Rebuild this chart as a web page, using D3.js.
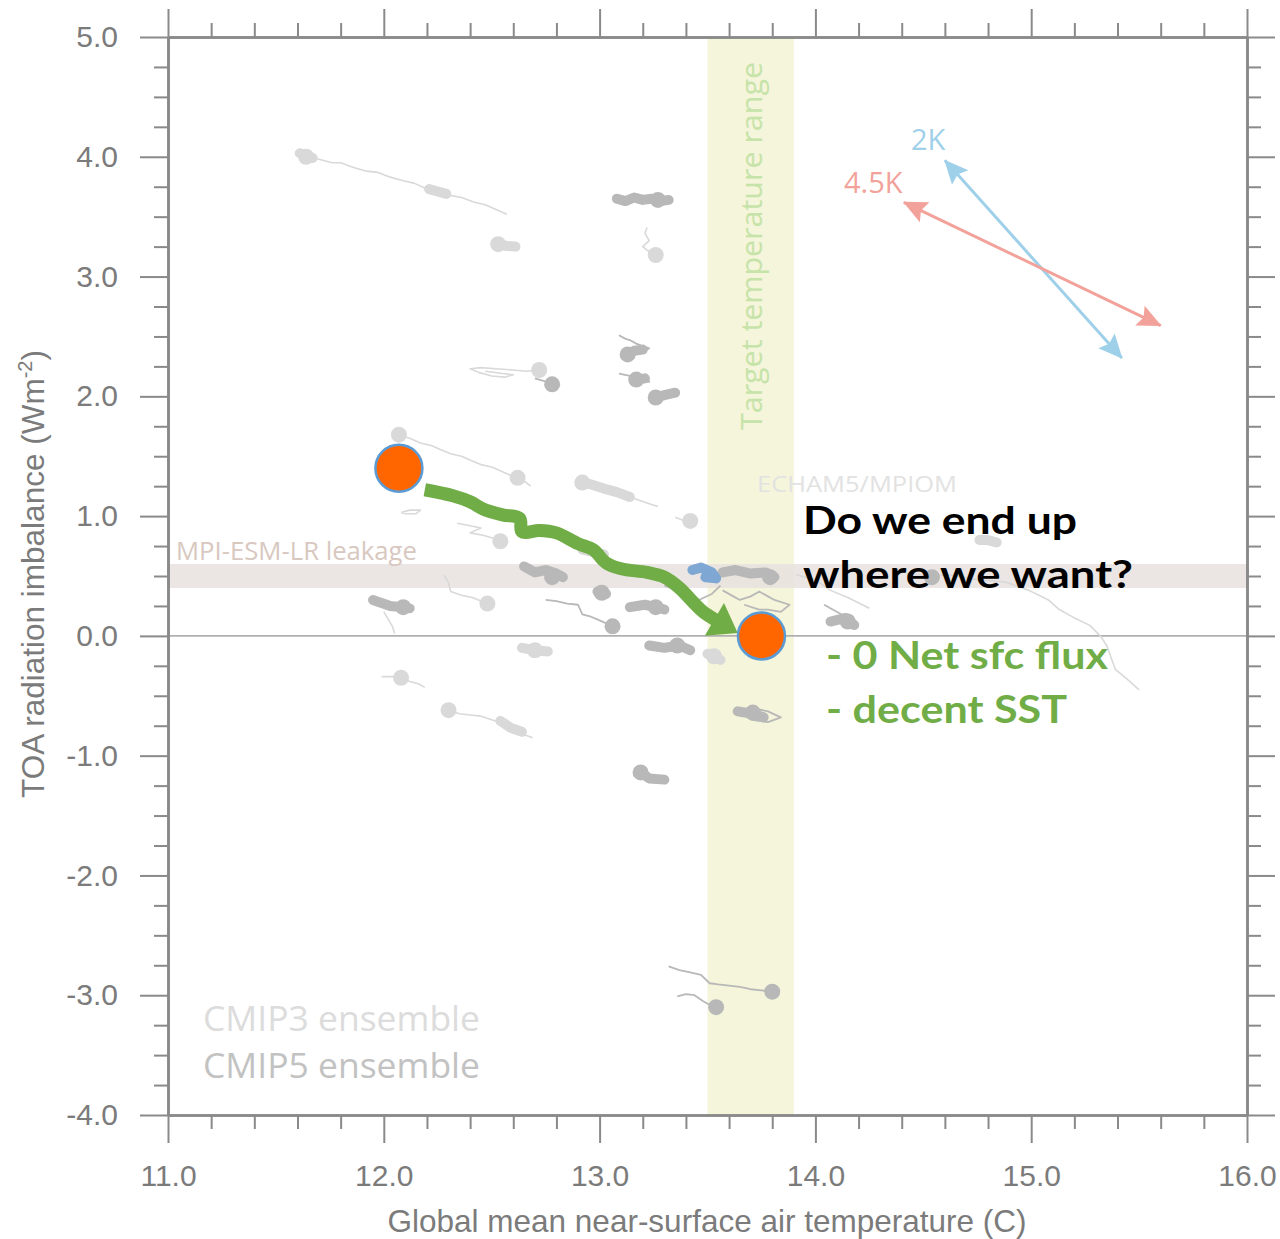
<!DOCTYPE html>
<html>
<head>
<meta charset="utf-8">
<script src="https://cdn.jsdelivr.net/npm/d3@7"></script>
<style>
  body { margin: 0; background: #fff; }
  text { font-family: "Liberation Sans", Arial, sans-serif; }
</style>
</head>
<body>
<svg id="chart" width="1280" height="1239"></svg>
<script>
// ---- axes ----
const xDomain = [11, 16];
const yDomain = [-4, 5];
const xMajor = [11, 12, 13, 14, 15, 16];
const yMajor = [5, 4, 3, 2, 1, 0, -1, -2, -3, -4];

// ---- reference ranges ----
const targetTempRange = [13.5, 13.9];     // degC
const leakageRange = [0.4, 0.6];          // W m-2

// ---- CMIP3 ensemble (temperature degC, TOA imbalance W m-2) ----
const cmip3Starts = [
  [11.64, 4.00], [12.53, 3.27], [12.72, 2.22], [13.26, 3.18], [12.07, 1.68],
  [12.62, 1.32], [12.92, 1.28], [12.54, 0.79], [13.42, 0.96], [12.48, 0.27],
  [12.08, -0.35], [12.30, -0.62], [13.53, -0.17], [12.70, -0.12]
];
const cmip3Tracks = [
  [[11.60, 4.04], [11.64, 4.00], [11.70, 3.98], [11.76, 3.95], [11.80, 3.95], [11.86, 3.91], [11.92, 3.88], [11.97, 3.87], [12.03, 3.83], [12.09, 3.80], [12.14, 3.78], [12.19, 3.74], [12.25, 3.71], [12.30, 3.68], [12.36, 3.66], [12.42, 3.62], [12.47, 3.60], [12.52, 3.56], [12.57, 3.52]],
  [[12.72, 2.22], [12.66, 2.21], [12.60, 2.22], [12.52, 2.23], [12.45, 2.24], [12.40, 2.23], [12.44, 2.20], [12.50, 2.17], [12.56, 2.16], [12.60, 2.18], [12.55, 2.19], [12.47, 2.21]],
  [[13.26, 3.18], [13.22, 3.22], [13.20, 3.25], [13.23, 3.30], [13.21, 3.36], [13.22, 3.41]],
  [[12.07, 1.68], [12.12, 1.65], [12.17, 1.61], [12.22, 1.59], [12.27, 1.55], [12.31, 1.52], [12.36, 1.50], [12.41, 1.46], [12.45, 1.43], [12.50, 1.41], [12.55, 1.37], [12.60, 1.33]],
  [[12.62, 1.32], [12.66, 1.28], [12.68, 1.25]],
  [[12.92, 1.28], [12.97, 1.26], [13.02, 1.23], [13.07, 1.20], [13.12, 1.17], [13.17, 1.14], [13.22, 1.11], [13.27, 1.08]],
  [[12.08, 1.03], [12.12, 1.05], [12.17, 1.05], [12.15, 1.02], [12.10, 1.02], [12.08, 1.03]],
  [[12.34, 0.94], [12.40, 0.92], [12.45, 0.90], [12.40, 0.86], [12.46, 0.84], [12.50, 0.82], [12.54, 0.79]],
  [[13.35, 0.99], [13.38, 0.97], [13.42, 0.96]],
  [[12.28, 0.51], [12.30, 0.44], [12.31, 0.37], [12.36, 0.34], [12.41, 0.32], [12.48, 0.27]],
  [[12.00, 0.20], [12.02, 0.14], [12.04, 0.08], [12.05, 0.02]],
  [[11.99, -0.34], [12.04, -0.34], [12.08, -0.35], [12.12, -0.38], [12.16, -0.40], [12.19, -0.43]],
  [[12.30, -0.62], [12.35, -0.65], [12.40, -0.66], [12.45, -0.67], [12.50, -0.70], [12.55, -0.73], [12.59, -0.77], [12.63, -0.81], [12.69, -0.85]],
  [[13.91, 0.51], [14.00, 0.47], [14.07, 0.38], [14.15, 0.32], [14.25, 0.23]],
  [[14.42, 0.52], [14.54, 0.50], [14.62, 0.51], [14.75, 0.47], [14.88, 0.45], [14.99, 0.38], [15.08, 0.30], [15.13, 0.22], [15.20, 0.15], [15.27, 0.09], [15.32, 0.00], [15.35, -0.08], [15.37, -0.18], [15.39, -0.28], [15.45, -0.37], [15.50, -0.45]]
];
const cmip3Clumps = [
  [[11.61, 4.03], [11.64, 4.01], [11.67, 3.99]],
  [[12.21, 3.73], [12.25, 3.71], [12.29, 3.69]],
  [[12.53, 3.27], [12.57, 3.255], [12.61, 3.25]],
  [[12.95, 1.27], [13.02, 1.23], [13.08, 1.20], [13.14, 1.16]],
  [[12.92, 0.72], [12.97, 0.70], [13.02, 0.68]],
  [[12.64, -0.10], [12.70, -0.12], [12.76, -0.13]],
  [[13.50, -0.15], [13.53, -0.17], [13.56, -0.20]],
  [[12.54, -0.71], [12.59, -0.77], [12.64, -0.80]],
  [[14.76, 0.80], [14.80, 0.80], [14.84, 0.78]]
];

// ---- CMIP5 ensemble ----
const cmip5Starts = [
  [12.78, 2.10], [13.27, 3.64], [13.13, 2.35], [13.17, 2.14], [13.26, 1.99],
  [12.78, 0.49], [12.09, 0.24], [13.06, 0.08], [13.01, 0.36], [13.26, 0.24],
  [13.36, -0.08], [13.79, 0.49], [14.15, 0.12], [14.54, 0.49], [13.71, -0.64],
  [13.19, -1.14], [13.80, -2.97], [13.54, -3.10]
];
const cmip5Tracks = [
  [[12.78, 2.10], [12.74, 2.13], [12.70, 2.15]],
  [[13.09, 2.51], [13.12, 2.48], [13.14, 2.47], [13.17, 2.44], [13.20, 2.42], [13.23, 2.40], [13.19, 2.37], [13.13, 2.35]],
  [[13.09, 2.19], [13.14, 2.17], [13.19, 2.15], [13.22, 2.16], [13.23, 2.12], [13.17, 2.14]],
  [[12.75, 0.30], [12.80, 0.29], [12.85, 0.27], [12.90, 0.26], [12.92, 0.18], [12.96, 0.16], [13.00, 0.13], [13.06, 0.08]],
  [[13.57, 0.38], [13.62, 0.33], [13.65, 0.30], [13.70, 0.33], [13.74, 0.37], [13.78, 0.33], [13.81, 0.30], [13.88, 0.26], [13.84, 0.20], [13.78, 0.22], [13.74, 0.22], [13.67, 0.26]],
  [[13.30, 0.42], [13.36, 0.38], [13.40, 0.32], [13.46, 0.30], [13.52, 0.35], [13.56, 0.42]],
  [[14.04, 0.26], [14.08, 0.22], [14.12, 0.18], [14.15, 0.12]],
  [[13.32, -2.76], [13.37, -2.79], [13.42, -2.81], [13.47, -2.83], [13.51, -2.90], [13.55, -2.91], [13.60, -2.92], [13.65, -2.93], [13.70, -2.95], [13.75, -2.96], [13.80, -2.97]],
  [[13.36, -3.01], [13.40, -2.99], [13.44, -3.00], [13.48, -3.05], [13.51, -3.08], [13.54, -3.10]],
  [[13.63, -0.63], [13.70, -0.60], [13.78, -0.63], [13.84, -0.68], [13.78, -0.72], [13.70, -0.70]]
];
const cmip5Clumps = [
  [[13.08, 3.65], [13.12, 3.63], [13.16, 3.66], [13.20, 3.64], [13.24, 3.65], [13.28, 3.63], [13.32, 3.64]],
  [[13.26, 1.99], [13.30, 2.01], [13.35, 2.03]],
  [[13.13, 2.35], [13.16, 2.38], [13.20, 2.39]],
  [[13.17, 2.14], [13.21, 2.15]],
  [[12.65, 0.58], [12.70, 0.53], [12.75, 0.55], [12.80, 0.52], [12.83, 0.49]],
  [[11.95, 0.30], [11.98, 0.28], [12.03, 0.25], [12.08, 0.24], [12.12, 0.23]],
  [[12.99, 0.37], [13.03, 0.35]],
  [[13.14, 0.24], [13.21, 0.26], [13.26, 0.24], [13.30, 0.22]],
  [[13.57, 0.53], [13.63, 0.55], [13.70, 0.52], [13.77, 0.53], [13.81, 0.49]],
  [[13.23, -0.08], [13.30, -0.10], [13.37, -0.08], [13.42, -0.12]],
  [[14.07, 0.12], [14.14, 0.15], [14.18, 0.09]],
  [[13.64, -0.63], [13.71, -0.65], [13.76, -0.68]],
  [[13.19, -1.14], [13.23, -1.19], [13.30, -1.20]]
];

// ---- ECHAM5/MPIOM run ----
const echamClump = [[13.43, 0.55], [13.47, 0.57], [13.52, 0.53], [13.54, 0.48], [13.49, 0.49]];

// ---- sensitivity directions (2K and 4.5K) ----
const arrow2K = [[14.60, 3.97], [15.42, 2.32]];
const arrow45K = [[14.41, 3.62], [15.60, 2.59]];

// ---- spin-up: start state and target state ----
const startState = [12.07, 1.40];
const endState = [13.75, 0.00];
const spinupPath = [
  [12.19, 1.22], [12.32, 1.17], [12.40, 1.12], [12.46, 1.06], [12.55, 1.01], [12.63, 0.98],
  [12.64, 0.87], [12.72, 0.88], [12.80, 0.86], [12.90, 0.77], [12.97, 0.72], [13.03, 0.61],
  [13.10, 0.56], [13.22, 0.53], [13.30, 0.49], [13.37, 0.40], [13.44, 0.27], [13.48, 0.20], [13.54, 0.13]
];

// ---------------------------------------------------------------
const svg = d3.select("#chart");
const L = 168, R = 1247, T = 37, B = 1115;
const x = d3.scaleLinear().domain(xDomain).range([L, R]);
const y = d3.scaleLinear().domain(yDomain).range([B, T]);

const axisColor = "#8a8a8a";
const labelColor = "#7b7b7b";
const humanist = "'Open Sans', sans-serif";

// background bands
svg.append("rect")
  .attr("x", x(targetTempRange[0])).attr("y", T)
  .attr("width", x(targetTempRange[1]) - x(targetTempRange[0]))
  .attr("height", B - T)
  .attr("fill", "#f4f5da");
svg.append("rect")
  .attr("x", L).attr("y", y(leakageRange[1]))
  .attr("width", R - L)
  .attr("height", y(leakageRange[0]) - y(leakageRange[1]))
  .attr("fill", "#e8e1de").attr("opacity", 0.85);

// zero line
svg.append("line")
  .attr("x1", L).attr("x2", R).attr("y1", y(0)).attr("y2", y(0))
  .attr("stroke", "#b0b0b0").attr("stroke-width", 1.6);

// band labels
svg.append("text")
  .attr("transform", `translate(762,430) rotate(-90)`)
  .style("font-family", humanist)
  .attr("font-size", 30).attr("fill", "#c6e3a9")
  .attr("textLength", 368).attr("lengthAdjust", "spacingAndGlyphs")
  .text("Target temperature range");
svg.append("text")
  .attr("x", 176).attr("y", 560)
  .style("font-family", humanist)
  .attr("font-size", 25).attr("fill", "#d8c8c0")
  .attr("textLength", 241).attr("lengthAdjust", "spacingAndGlyphs")
  .text("MPI-ESM-LR leakage");
svg.append("text")
  .attr("x", 757).attr("y", 492)
  .style("font-family", humanist)
  .attr("font-size", 22).attr("fill", "#e2e2e2")
  .attr("textLength", 200).attr("lengthAdjust", "spacingAndGlyphs")
  .text("ECHAM5/MPIOM");

// ensemble trajectories
const line = d3.line().x(d => x(d[0])).y(d => y(d[1])).curve(d3.curveLinear);
function drawEnsemble(tracks, clumps, starts, color, tw) {
  const g = svg.append("g");
  g.selectAll("path.track").data(tracks).join("path")
    .attr("d", line).attr("fill", "none")
    .attr("stroke", color).attr("stroke-width", tw)
    .attr("stroke-linejoin", "round");
  g.selectAll("path.clump").data(clumps).join("path")
    .attr("d", line).attr("fill", "none")
    .attr("stroke", color).attr("stroke-width", 10)
    .attr("stroke-linecap", "round").attr("stroke-linejoin", "round");
  g.selectAll("circle").data(starts).join("circle")
    .attr("cx", d => x(d[0])).attr("cy", d => y(d[1])).attr("r", 8)
    .attr("fill", color);
}
drawEnsemble(cmip3Tracks, cmip3Clumps, cmip3Starts, "#d9d9d9", 1.6);
drawEnsemble(cmip5Tracks, cmip5Clumps, cmip5Starts, "#b8b8b8", 1.8);

svg.append("path").datum(echamClump).attr("d", line)
  .attr("fill", "none").attr("stroke", "#7fa7d4").attr("stroke-width", 10)
  .attr("stroke-linecap", "round").attr("stroke-linejoin", "round");

// ensemble legend
svg.append("text").attr("x", 203).attr("y", 1031)
  .style("font-family", humanist)
  .attr("font-size", 34).attr("fill", "#dcdcdc")
  .attr("textLength", 277).attr("lengthAdjust", "spacingAndGlyphs").text("CMIP3 ensemble");
svg.append("text").attr("x", 203).attr("y", 1078)
  .style("font-family", humanist)
  .attr("font-size", 34).attr("fill", "#c2c2c2")
  .attr("textLength", 277).attr("lengthAdjust", "spacingAndGlyphs").text("CMIP5 ensemble");

// axes (all four sides, outward ticks)
const xMinor = d3.range(11, 16.001, 0.2).map(v => +v.toFixed(1)).filter(v => !xMajor.includes(v));
const yMinor = d3.range(-4, 5.001, 0.25).filter(v => !yMajor.includes(v));

function styleAxis(g) {
  g.selectAll("path.domain").attr("stroke", axisColor).attr("stroke-width", 2.6);
  g.selectAll(".tick line").attr("stroke", axisColor).attr("stroke-width", 2);
  g.selectAll(".tick text").attr("fill", labelColor)
    .attr("font-size", 30).attr("font-family", "'Liberation Sans', Arial, sans-serif");
}
const fmt = d => d.toFixed(1);
// bottom
svg.append("g").attr("transform", `translate(0,${B})`)
  .call(d3.axisBottom(x).tickValues(xMajor).tickSize(28).tickSizeOuter(0).tickPadding(22).tickFormat(fmt)).call(styleAxis);
svg.append("g").attr("transform", `translate(0,${B})`)
  .call(d3.axisBottom(x).tickValues(xMinor).tickSize(14).tickSizeOuter(0).tickFormat("")).call(styleAxis);
// top
svg.append("g").attr("transform", `translate(0,${T})`)
  .call(d3.axisTop(x).tickValues(xMajor).tickSize(28).tickSizeOuter(0).tickFormat("")).call(styleAxis);
svg.append("g").attr("transform", `translate(0,${T})`)
  .call(d3.axisTop(x).tickValues(xMinor).tickSize(14).tickSizeOuter(0).tickFormat("")).call(styleAxis);
// left
svg.append("g").attr("transform", `translate(${L},0)`)
  .call(d3.axisLeft(y).tickValues(yMajor).tickSize(28).tickSizeOuter(0).tickPadding(22).tickFormat(fmt)).call(styleAxis);
svg.append("g").attr("transform", `translate(${L},0)`)
  .call(d3.axisLeft(y).tickValues(yMinor).tickSize(14).tickSizeOuter(0).tickFormat("")).call(styleAxis);
// right
svg.append("g").attr("transform", `translate(${R},0)`)
  .call(d3.axisRight(y).tickValues(yMajor).tickSize(28).tickSizeOuter(0).tickFormat("")).call(styleAxis);
svg.append("g").attr("transform", `translate(${R},0)`)
  .call(d3.axisRight(y).tickValues(yMinor).tickSize(14).tickSizeOuter(0).tickFormat("")).call(styleAxis);

// axis titles
svg.append("text")
  .attr("x", 707).attr("y", 1232)
  .attr("text-anchor", "middle").attr("font-size", 31.5).attr("fill", labelColor)
  .text("Global mean near-surface air temperature (C)");
const yt = svg.append("text")
  .attr("transform", `translate(44,574) rotate(-90)`)
  .attr("text-anchor", "middle").attr("font-size", 31.5).attr("fill", labelColor);
yt.append("tspan").text("TOA radiation imbalance (Wm");
yt.append("tspan").attr("font-size", 20).attr("dy", -12).text("-2");
yt.append("tspan").attr("dy", 12).text(")");

// sensitivity arrows
const defs = svg.append("defs");
function headMarker(id, color) {
  defs.append("marker").attr("id", id)
    .attr("markerUnits", "userSpaceOnUse")
    .attr("viewBox", "-2 -14 30 28").attr("markerWidth", 30).attr("markerHeight", 28)
    .attr("refX", 23).attr("refY", 0).attr("orient", "auto-start-reverse")
    .append("path").attr("d", "M0,-11 L24,0 L0,11 L4,0 Z").attr("fill", color);
}
headMarker("headBlue", "#9fd0ea");
headMarker("headRed", "#f2a29a");
svg.append("path").datum(arrow2K).attr("d", line)
  .attr("stroke", "#9fd0ea").attr("stroke-width", 3).attr("fill", "none")
  .attr("marker-start", "url(#headBlue)").attr("marker-end", "url(#headBlue)");
svg.append("path").datum(arrow45K).attr("d", line)
  .attr("stroke", "#f2a29a").attr("stroke-width", 3).attr("fill", "none")
  .attr("marker-start", "url(#headRed)").attr("marker-end", "url(#headRed)");
svg.append("text").attr("x", 911).attr("y", 150)
  .style("font-family", humanist)
  .attr("font-size", 29).attr("fill", "#9fd0ea").text("2K");
svg.append("text").attr("x", 844).attr("y", 193)
  .style("font-family", humanist)
  .attr("font-size", 29).attr("fill", "#f2a29a").text("4.5K");

// spin-up arrow
defs.append("marker").attr("id", "headGreen")
  .attr("markerUnits", "userSpaceOnUse")
  .attr("viewBox", "-2 -22 34 44").attr("markerWidth", 34).attr("markerHeight", 44)
  .attr("refX", 2).attr("refY", 0).attr("orient", "auto")
  .append("path").attr("d", "M0,-19 L27,0 L0,19 Z").attr("fill", "#70ad47");
svg.append("path").datum(spinupPath)
  .attr("d", d3.line().x(d => x(d[0])).y(d => y(d[1])).curve(d3.curveCatmullRom.alpha(0.5)))
  .attr("fill", "none").attr("stroke", "#70ad47").attr("stroke-width", 13)
  .attr("stroke-linejoin", "round")
  .attr("marker-end", "url(#headGreen)");

// start / end states
svg.selectAll("circle.state").data([startState, endState]).join("circle")
  .attr("class", "state")
  .attr("cx", d => x(d[0])).attr("cy", d => y(d[1])).attr("r", 23.5)
  .attr("fill", "#ff6600").attr("stroke", "#5b9bd5").attr("stroke-width", 2.5);

// annotation
const noteFont = "Lato, 'Open Sans', sans-serif";
[["Do we end up", 803, 534, 274], ["where we want?", 803, 588, 330]].forEach(([t, tx, ty, w]) => {
  svg.append("text").attr("x", tx).attr("y", ty)
    .style("font-family", noteFont).attr("font-weight", "bold")
    .attr("font-size", 38).attr("fill", "#000")
    .attr("textLength", w).attr("lengthAdjust", "spacingAndGlyphs").text(t);
});
[["- 0 Net sfc flux", 826, 669, 282], ["- decent SST", 826, 723, 241]].forEach(([t, tx, ty, w]) => {
  svg.append("text").attr("x", tx).attr("y", ty)
    .style("font-family", noteFont).attr("font-weight", "bold")
    .attr("font-size", 38).attr("fill", "#70ad47")
    .attr("textLength", w).attr("lengthAdjust", "spacingAndGlyphs").text(t);
});
</script>
</body>
</html>
